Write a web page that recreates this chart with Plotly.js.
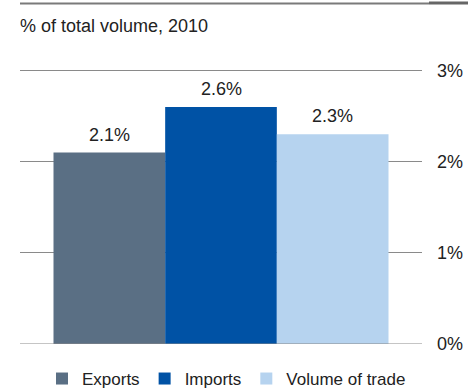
<!DOCTYPE html>
<html>
<head>
<meta charset="utf-8">
<script src="https://cdn.plot.ly/plotly-3.0.1.min.js"></script>
<style>html,body{margin:0;padding:0;background:#fff;}#chart{width:468px;height:390px;}</style>
</head>
<body>
<div id="chart"></div>
<script>
const seriesNames = ["Exports", "Imports", "Volume of trade"];
const seriesValues = [2.1, 2.6, 2.3];
const seriesLabels = ["2.1%", "2.6%", "2.3%"];
const seriesColors = ["#5a6f84", "#0052a5", "#b6d3ef"];
const tickValues = [0, 1, 2, 3];
const tickLabels = ["0%", "1%", "2%", "3%"];

const font = "Arial";
const TOP = 64.52, H = 279.48;
const py = p => 1 + (TOP - p) / H;
const px = p => (p - 20) / 402;

const traces = seriesNames.map((n, i) => ({
  type: "bar",
  name: n,
  x: [n],
  y: [seriesValues[i]],
  width: [1],
  marker: {color: seriesColors[i]},
  hoverinfo: "none"
}));

const annotations = seriesNames.map((n, i) => ({
  x: n, y: seriesValues[i], xref: "x", yref: "y",
  text: seriesLabels[i], showarrow: false,
  yanchor: "bottom", yshift: 6,
  font: {family: font, size: 18, color: "#222"}
}));
annotations.push({
  xref: "paper", yref: "paper", x: 0, y: py(25), xanchor: "left", yanchor: "middle",
  xshift: -2, text: "% of total volume, 2010", showarrow: false,
  font: {family: font, size: 18, color: "#222"}
});

const layout = {
  width: 468, height: 390,
  margin: {l: 20, r: 46, t: TOP, b: 46, autoexpand: false},
  paper_bgcolor: "#fff", plot_bgcolor: "#fff",
  barmode: "overlay",
  showlegend: true,
  legend: {
    orientation: "h", x: 0.0547, xanchor: "left", y: py(361), yanchor: "top",
    font: {family: font, size: 17, color: "#222"},
    itemwidth: 30, traceorder: "normal", tracegroupgap: 0
  },
  xaxis: {
    type: "category", range: [-0.8, 2.8], showticklabels: false,
    showgrid: false, zeroline: false, showline: false, ticks: ""
  },
  yaxis: {
    side: "right", range: [0, 3.06], tickvals: tickValues, ticktext: tickLabels,
    showgrid: true, gridcolor: "#8a8a8a", gridwidth: 1,
    zeroline: false, showline: false, ticks: "",
    ticklabelstandoff: 14,
    tickfont: {family: font, size: 18, color: "#222"}
  },
  shapes: [
    {type: "rect", xref: "paper", yref: "paper", x0: px(20), x1: px(429), y0: py(4), y1: py(2),
     fillcolor: "#7a7a7a", line: {width: 0}, layer: "above"},
    {type: "rect", xref: "paper", yref: "paper", x0: px(429), x1: px(468), y0: py(4), y1: py(1),
     fillcolor: "#666666", line: {width: 0}, layer: "above"},
    {type: "line", xref: "paper", yref: "y", x0: 0, x1: 1, y0: 0, y1: 0,
     line: {color: "#8a8a8a", width: 1}, layer: "above"}
  ],
  annotations: annotations
};

Plotly.newPlot("chart", traces, layout, {displayModeBar: false, staticPlot: true});
</script>
</body>
</html>
